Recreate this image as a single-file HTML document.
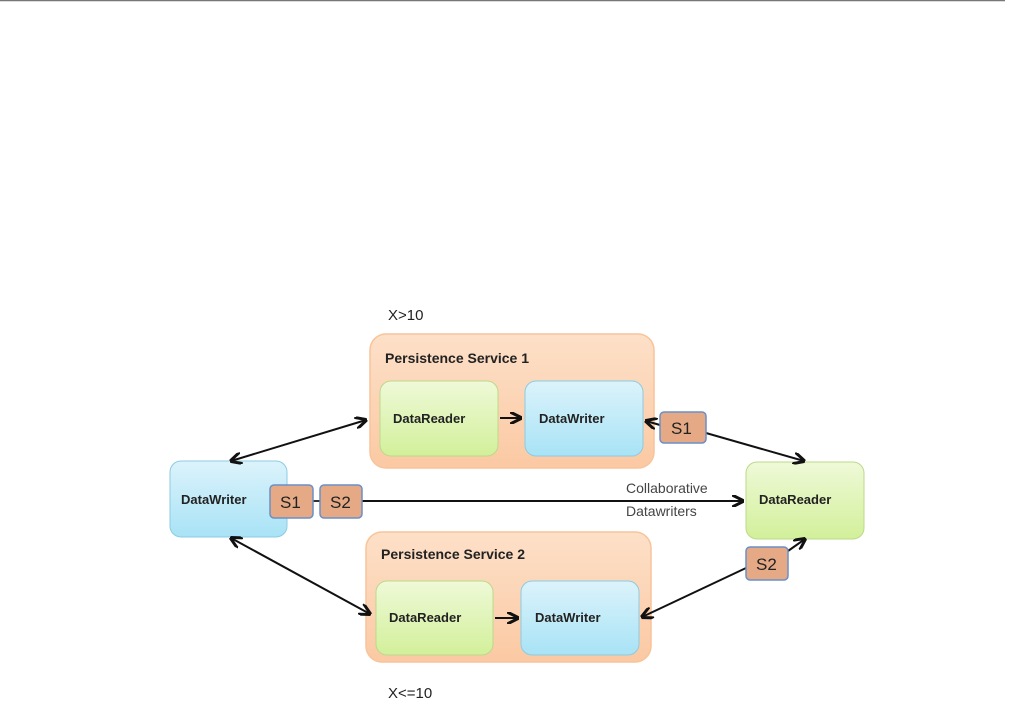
<!DOCTYPE html>
<html><head><meta charset="utf-8"><style>
html,body{margin:0;padding:0;background:#fff;width:1010px;height:716px;overflow:hidden}
text{font-family:"Liberation Sans","DejaVu Sans",sans-serif}
</style></head><body>
<svg width="1010" height="716" viewBox="0 0 1010 716" xmlns="http://www.w3.org/2000/svg">
<defs>
<linearGradient id="og" x1="0" y1="0" x2="0" y2="1"><stop offset="0" stop-color="#fde0c8"/><stop offset="1" stop-color="#fbc9a3"/></linearGradient>
<linearGradient id="gg" x1="0" y1="0" x2="0" y2="1"><stop offset="0" stop-color="#eff9d8"/><stop offset="1" stop-color="#d2f09a"/></linearGradient>
<linearGradient id="bg" x1="0" y1="0" x2="0" y2="1"><stop offset="0" stop-color="#dcf3fb"/><stop offset="1" stop-color="#a8e3f6"/></linearGradient>
<marker id="ah" viewBox="0 0 10 10" refX="9" refY="5" markerWidth="6" markerHeight="6" orient="auto-start-reverse"><path d="M0,0 L10,5 L0,10" fill="none" stroke="#111" stroke-width="2.5"/></marker>
</defs>
<line x1="0" y1="0.5" x2="1005" y2="0.5" stroke="#777" stroke-width="1.5"/>
<text x="388" y="320" font-size="15" fill="#222">X&gt;10</text>
<text x="388" y="698" font-size="15" fill="#222">X&lt;=10</text>
<rect x="370" y="334" width="284" height="134" rx="16" fill="url(#og)" stroke="#f8c49a" stroke-width="1.5"/>
<text x="385" y="363" font-size="14" font-weight="bold" fill="#222">Persistence Service 1</text>
<rect x="380" y="381" width="118" height="75" rx="11" fill="url(#gg)" stroke="#bcd98a"/>
<text x="393" y="423" font-size="13" font-weight="bold" fill="#222">DataReader</text>
<rect x="525" y="381" width="118" height="75" rx="11" fill="url(#bg)" stroke="#8ccbe3"/>
<text x="539" y="423" font-size="13" font-weight="bold" fill="#222">DataWriter</text>
<rect x="366" y="532" width="285" height="130" rx="16" fill="url(#og)" stroke="#f8c49a" stroke-width="1.5"/>
<text x="381" y="559" font-size="14" font-weight="bold" fill="#222">Persistence Service 2</text>
<rect x="376" y="581" width="117" height="74" rx="11" fill="url(#gg)" stroke="#bcd98a"/>
<text x="389" y="622" font-size="13" font-weight="bold" fill="#222">DataReader</text>
<rect x="521" y="581" width="118" height="74" rx="11" fill="url(#bg)" stroke="#8ccbe3"/>
<text x="535" y="622" font-size="13" font-weight="bold" fill="#222">DataWriter</text>
<rect x="170" y="461" width="117" height="76" rx="11" fill="url(#bg)" stroke="#8ccbe3"/>
<text x="181" y="504" font-size="13" font-weight="bold" fill="#222">DataWriter</text>
<rect x="746" y="462" width="118" height="77" rx="11" fill="url(#gg)" stroke="#bcd98a"/>
<text x="759" y="504" font-size="13" font-weight="bold" fill="#222">DataReader</text>
<line x1="313" y1="501" x2="320" y2="501" stroke="#333" stroke-width="2"/>
<line x1="362" y1="501" x2="743" y2="501" stroke="#111" stroke-width="2" marker-end="url(#ah)"/>
<line x1="366" y1="420" x2="231" y2="461" stroke="#111" stroke-width="2" marker-start="url(#ah)" marker-end="url(#ah)"/>
<line x1="500" y1="418" x2="521" y2="418" stroke="#111" stroke-width="2" marker-end="url(#ah)"/>
<line x1="660" y1="425" x2="646" y2="421" stroke="#111" stroke-width="2" marker-end="url(#ah)"/>
<line x1="706" y1="433" x2="804" y2="461" stroke="#111" stroke-width="2" marker-end="url(#ah)"/>
<line x1="231" y1="538" x2="370" y2="614" stroke="#111" stroke-width="2" marker-start="url(#ah)" marker-end="url(#ah)"/>
<line x1="495" y1="618" x2="518" y2="618" stroke="#111" stroke-width="2" marker-end="url(#ah)"/>
<line x1="746" y1="568" x2="642" y2="617" stroke="#111" stroke-width="2" marker-end="url(#ah)"/>
<line x1="788" y1="551" x2="805" y2="539" stroke="#111" stroke-width="2" marker-end="url(#ah)"/>
<g font-size="17" fill="#222">
<rect x="660" y="412" width="46" height="31" rx="4" fill="#e6a985" stroke="#6a8fc7" stroke-width="1.5"/><text x="671" y="434">S1</text>
<rect x="270" y="485" width="43" height="33" rx="4" fill="#e6a985" stroke="#6a8fc7" stroke-width="1.5"/><text x="280" y="508">S1</text>
<rect x="320" y="485" width="42" height="33" rx="4" fill="#e6a985" stroke="#6a8fc7" stroke-width="1.5"/><text x="330" y="508">S2</text>
<rect x="746" y="547" width="42" height="33" rx="4" fill="#e6a985" stroke="#6a8fc7" stroke-width="1.5"/><text x="756" y="570">S2</text>
</g>
<text x="626" y="493" font-size="14" fill="#444">Collaborative</text>
<text x="626" y="516" font-size="14" fill="#444">Datawriters</text>
</svg>
</body></html>
